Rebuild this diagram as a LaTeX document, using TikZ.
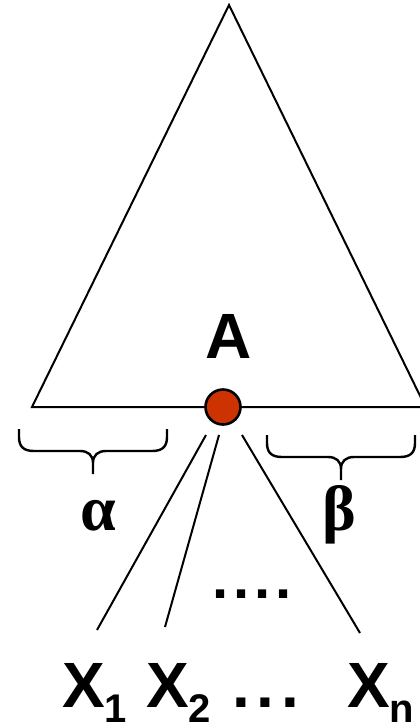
\documentclass[tikz,border=0pt]{standalone}
\usepackage{fontspec}
\newfontfamily\arialb{Liberation Sans Bold}
\newfontfamily\timesf{Liberation Serif Bold}
\definecolor{dotred}{RGB}{204,51,0}
\begin{document}
\begin{tikzpicture}[x=1pt,y=-1pt,
  edge/.style={line width=2pt},
  bracestyle/.style={line width=2.4pt, line join=round},
  bigtxt/.style={inner sep=0pt, anchor=base, font=\arialb\fontsize{64}{64}\selectfont},
  greek/.style={inner sep=0pt, anchor=base, font=\timesf\fontsize{64}{64}\selectfont}]
\useasboundingbox (0,0) rectangle (420,725);
% triangle
\coordinate (apex) at (229,5);
\coordinate (bl) at (32,407);
\coordinate (br) at (425.5,407);
\draw[edge, line join=miter] (bl) -- (apex) -- (br) -- cycle;
% central node
\node[circle, fill=dotred, draw=black, line width=2.6pt, minimum size=35pt, inner sep=0pt] (c) at (223,407) {};
\node[bigtxt] (A) at (228.5,358) {A};
% braces
\draw[bracestyle] (19,429) -- (19,437) .. controls (19,447) and (24,451) .. (34,451)
  -- (80,451) .. controls (88,451) and (93,455) .. (93,463) -- (93,474)
  (93,463) .. controls (93,455) and (98,451) .. (106,451)
  -- (152,451) .. controls (162,451) and (167,447) .. (167,437) -- (167,429);
\draw[bracestyle] (267,435) -- (267,443) .. controls (267,453) and (272,457) .. (282,457)
  -- (328,457) .. controls (336,457) and (341,461) .. (341,469) -- (341,480)
  (341,469) .. controls (341,461) and (346,457) .. (354,457)
  -- (400,457) .. controls (410,457) and (415,453) .. (415,443) -- (415,435);
\node[greek] (alpha) at (98,530) {α};
\node[greek] (beta) at (339,530) {β};
% leaves
\node[bigtxt, anchor=base west] (x1) at (62,707) {X\raisebox{-15pt}{\fontsize{40}{40}\selectfont 1}};
\node[bigtxt, anchor=base west] (x2) at (146,707) {X\raisebox{-15pt}{\fontsize{40}{40}\selectfont 2}};
\node[bigtxt, anchor=base west] (dd) at (232,707) {.\kern7pt.\kern7pt.};
\node[bigtxt, anchor=base west] (xn) at (347,707) {X\raisebox{-15pt}{\fontsize{40}{40}\selectfont n}};
\node[inner sep=0pt, anchor=base west, font=\arialb\fontsize{58}{58}\selectfont] (mid) at (212,598) {.\kern5pt.\kern5pt.\kern5pt.};
% connectors
\coordinate (t1) at (206,435); \coordinate (b1) at (97,630);
\coordinate (t2) at (219,435); \coordinate (b2) at (165,627);
\coordinate (t3) at (242,435); \coordinate (b3) at (360,633);
\draw[edge] (t1) -- (b1);
\draw[edge] (t2) -- (b2);
\draw[edge] (t3) -- (b3);
\end{tikzpicture}
\end{document}
